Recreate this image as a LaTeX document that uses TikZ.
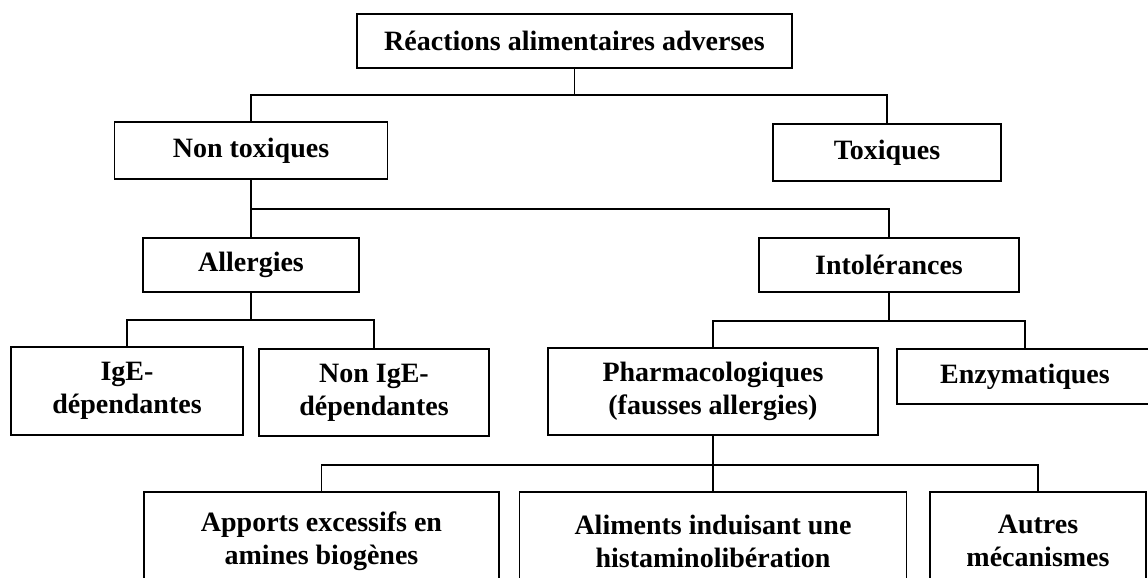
\documentclass[tikz,border=0pt]{standalone}
\usepackage{fontspec}
\setmainfont{Liberation Serif}
\usetikzlibrary{positioning,calc}
\tikzset{
    box/.style={draw, line width=0.65pt, align=center, inner sep=0pt,
        font=\fontsize{14}{16.5}\selectfont\bfseries},
    link/.style={line width=0.65pt},
}

\begin{document}
\begin{tikzpicture}[x=0.5pt, y=-0.5pt]
            \useasboundingbox (0,0) rectangle (1148,578);
            \clip (0,0) rectangle (1148,578);

            % root
            \node[box, minimum width=217.5pt, minimum height=27pt] (rea) at (574.5,41) {R\'eactions alimentaires adverses};

            % first level
            \node[box, minimum width=136.5pt, minimum height=28.5pt] (nontox) at (251,150.5) {Non toxiques};
            \node[box, minimum width=114pt, minimum height=28.5pt] (tox) at (887,152.5) {Toxiques};

            % second level
            \node[box, minimum width=108pt, minimum height=27pt] (allerg) at (251,265) {Allergies};
            \node[box, minimum width=130pt, minimum height=27pt] (intol) at (889,265) {Intol\'erances};

            % third level
            \node[box, minimum width=116pt, minimum height=44pt] (ige) at (127,391) {IgE-\\d\'ependantes};
            \node[box, minimum width=115pt, minimum height=43.5pt] (nonige) at (374,392.5) {Non IgE-\\d\'ependantes};
            \node[box, minimum width=165pt, minimum height=43.5pt] (pharma) at (713,391.5) {Pharmacologiques\\(fausses allergies)};
            \node[box, minimum width=128pt, minimum height=27.5pt] (enzym) at (1025,376.5) {Enzymatiques};

            % bottom level
            \node[box, minimum width=177.5pt, minimum height=49pt] (apports) at (321.5,541) {Apports excessifs en\\amines biog\`enes};
            \node[box, minimum width=193.5pt, minimum height=49pt] (aliments) at (713,541) {Aliments induisant une\\histaminolib\'eration};
            \node[box, minimum width=108pt, minimum height=49pt] (autres) at (1038,541) {Autres\\m\'ecanismes};

            % junctions
            \coordinate (j1) at (rea.south |- 0,95);
            \coordinate (j2) at (nontox.south |- 0,209);
            \coordinate (j3) at (allerg.south |- 0,320);
            \coordinate (j4) at (intol.south |- 0,321);
            \coordinate (j5) at (pharma.south |- 0,465);

            \draw[link] (rea.south) -- (j1);
            \draw[link] (nontox.north) |- (j1) -| (tox.north);

            \draw[link] (nontox.south) -- (j2) -| (intol.north);
            \draw[link] (j2) -- (allerg.north);

            \draw[link] (allerg.south) -- (j3);
            \draw[link] (ige.north) |- (j3) -| (nonige.north);

            \draw[link] (intol.south) -- (j4);
            \draw[link] (pharma.north) |- (j4) -| (enzym.north);

            \draw[link] (pharma.south) -- (j5) -- (aliments.north);
            \draw[link] (apports.north) |- (j5) -| (autres.north);
\end{tikzpicture}
\end{document}
